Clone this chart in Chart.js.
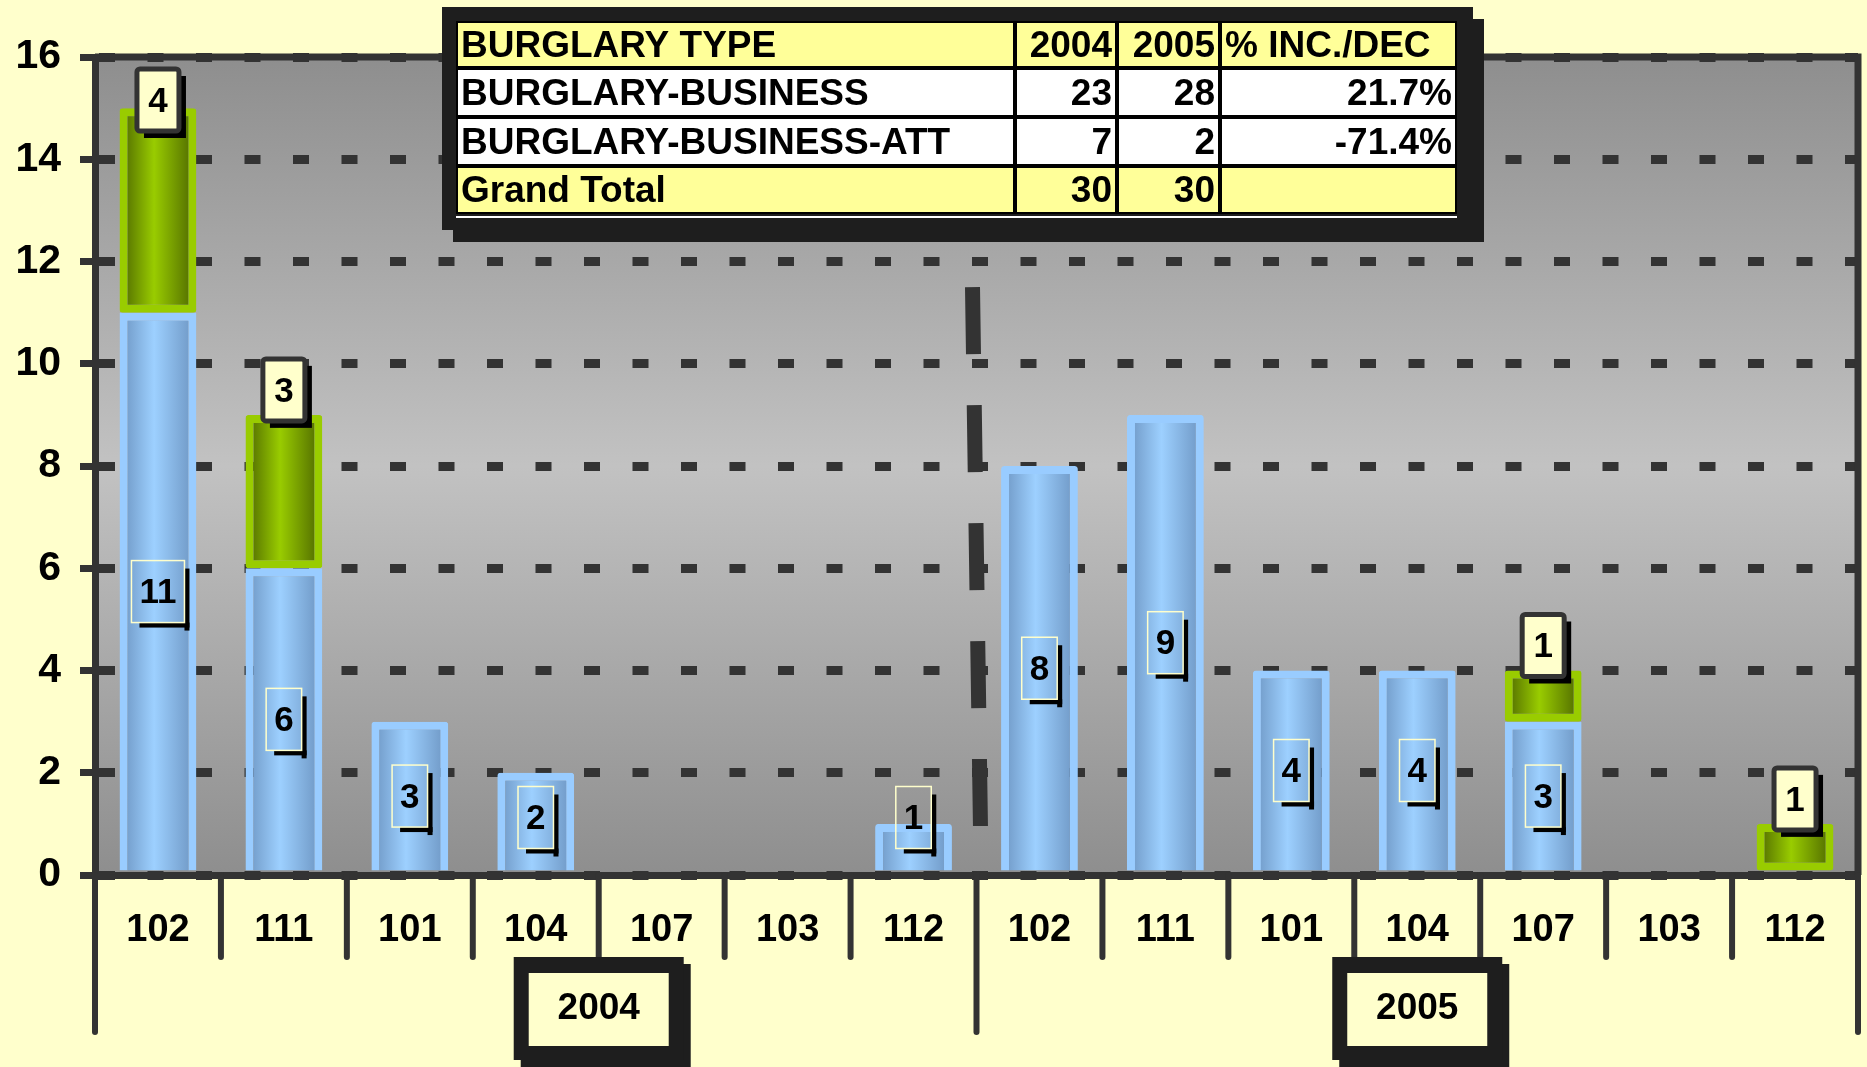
<!DOCTYPE html>
<html>
<head>
<meta charset="utf-8">
<script src="https://cdn.jsdelivr.net/npm/chart.js@4.4.0/dist/chart.umd.min.js"></script>
<style>
  html, body { margin: 0; padding: 0; background: #ffffcc; }
  canvas { display: block; }
</style>
</head>
<body>
<canvas id="chart" width="1867" height="1067"></canvas>
<script>
// precinct codes along the x axis, one run per year
const precincts = ["102", "111", "101", "104", "107", "103", "112"]
const years = ["2004", "2005"]
const categories = years.flatMap(() => precincts)

// stacked counts per precinct: 2004 run first, then 2005
const businessCounts = [11, 6, 3, 2, 0, 0, 1, 8, 9, 4, 4, 3, 0, 0]
const attemptCounts = [4, 3, 0, 0, 0, 0, 0, 0, 0, 0, 0, 1, 0, 1]

// y axis
const yTickValues = [0, 2, 4, 6, 8, 10, 12, 14, 16]

// summary table
const tableHeader = ["BURGLARY TYPE", "2004", "2005", "% INC./DEC"]
const burglaryTypes = ["BURGLARY-BUSINESS", "BURGLARY-BUSINESS-ATT"]

const FONT = "'Liberation Sans', Arial, sans-serif"
const DARK = "#333333"
const FRAME = "#1e1e1e"
const BAR_FRACTION = 0.61

const sum = arr => arr.reduce((a, b) => a + b, 0)

/**
 * Horizontal "cylinder" gradient for a single bar
 */
function barGradient(context, edge, mid) {
  const chart = context.chart
  const x = chart.scales.x
  if (context.type !== "data" || !x || !chart.chartArea) return mid
  const center = x.getPixelForValue(context.dataIndex)
  const half = (x.width / categories.length) * BAR_FRACTION / 2
  const g = chart.ctx.createLinearGradient(center - half, 0, center + half, 0)
  g.addColorStop(0, edge)
  g.addColorStop(0.45, mid)
  g.addColorStop(1, edge)
  return g
}

function roundRect(ctx, x, y, w, h, r) {
  ctx.beginPath()
  ctx.moveTo(x + r, y)
  ctx.arcTo(x + w, y, x + w, y + h, r)
  ctx.arcTo(x + w, y + h, x, y + h, r)
  ctx.arcTo(x, y + h, x, y, r)
  ctx.arcTo(x, y, x + w, y, r)
  ctx.closePath()
}

// plot background: grey band, lighter in the middle
const backgroundPlugin = {
  id: "background",
  beforeDraw(chart) {
    const { ctx, chartArea: a } = chart
    ctx.save()
    ctx.fillStyle = "#ffffcc"
    ctx.fillRect(0, 0, chart.width, chart.height)
    const g = ctx.createLinearGradient(0, a.top, 0, a.bottom)
    g.addColorStop(0, "#8e8e8e")
    g.addColorStop(0.5, "#c2c2c2")
    g.addColorStop(1, "#8e8e8e")
    ctx.fillStyle = g
    ctx.fillRect(a.left, a.top, a.right - a.left, a.bottom - a.top)
    ctx.restore()
  },
}

// value boxes on the bars
const labelPlugin = {
  id: "valueLabels",
  afterDatasetsDraw(chart) {
    const ctx = chart.ctx
    ctx.save()
    ctx.font = `bold 35px ${FONT}`
    ctx.textAlign = "center"
    ctx.textBaseline = "middle"

    chart.getDatasetMeta(0).data.forEach((bar, i) => {
      const v = businessCounts[i]
      if (!v) return
      const text = String(v)
      const w = ctx.measureText(text).width + 16
      const h = 62
      let cy = (bar.y + bar.base) / 2
      cy = Math.min(cy, bar.base - 22 - h / 2)
      const left = bar.x - w / 2
      const top = cy - h / 2
      ctx.fillStyle = "#000"
      ctx.fillRect(left + w, top + 8, 5, h)
      ctx.fillRect(left + 8, top + h, w - 3, 5)
      ctx.strokeStyle = "#ffffcc"
      ctx.lineWidth = 1.5
      ctx.strokeRect(left, top, w, h)
      ctx.fillStyle = "#000"
      ctx.fillText(text, bar.x, cy + 2)
    })

    chart.getDatasetMeta(1).data.forEach((bar, i) => {
      const v = attemptCounts[i]
      if (!v) return
      const w = 42
      const h = 62
      const left = bar.x - w / 2
      const top = Math.max(bar.y + 6 - h, chart.chartArea.top + 12)
      ctx.fillStyle = "#000"
      ctx.fillRect(left + 7, top + 7, w, h)
      roundRect(ctx, left, top, w, h, 3)
      ctx.fillStyle = "#ffffcc"
      ctx.fill()
      ctx.strokeStyle = DARK
      ctx.lineWidth = 5
      ctx.stroke()
      ctx.fillStyle = "#000"
      ctx.fillText(String(v), bar.x, top + h / 2 + 2)
    })
    ctx.restore()
  },
}

// frame, category dividers, year boxes and the summary table
const decorPlugin = {
  id: "decor",
  afterDraw(chart) {
    const { ctx, chartArea: a } = chart
    const xs = chart.scales.x
    const ys = chart.scales.y
    ctx.save()

    // top and right frame
    ctx.strokeStyle = DARK
    ctx.lineWidth = 7
    ctx.beginPath()
    ctx.moveTo(a.left, a.top)
    ctx.lineTo(a.right, a.top)
    ctx.lineTo(a.right, a.bottom)
    ctx.stroke()

    // category separators below the axis
    ctx.lineWidth = 6
    ctx.lineCap = "round"
    for (let i = 0; i <= categories.length; i++) {
      const x = xs.getPixelForValue(i - 0.5)
      const long = i % precincts.length === 0
      ctx.beginPath()
      ctx.moveTo(x, a.bottom)
      ctx.lineTo(x, long ? 1032 : 957)
      ctx.stroke()
    }

    // dashed divider between years
    const xMid = xs.getPixelForValue(precincts.length - 0.5)
    ctx.lineCap = "butt"
    ctx.lineWidth = 15
    ctx.setLineDash([67, 51])
    ctx.beginPath()
    ctx.moveTo(xMid - 4, ys.getPixelForValue(11.5))
    ctx.lineTo(xMid + 4, ys.getPixelForValue(0.9))
    ctx.stroke()
    ctx.setLineDash([])

    // year boxes
    const yearCenters = [xs.getPixelForValue(3.5), xs.getPixelForValue(10)]
    years.forEach((year, i) => {
      const cx = yearCenters[i]
      const w = 170, h = 103, top = 957
      ctx.fillStyle = FRAME
      ctx.fillRect(cx - w / 2 + 7, top + 7, w, h)
      ctx.fillRect(cx - w / 2, top, w, h)
      ctx.fillStyle = "#ffffcc"
      ctx.fillRect(cx - w / 2 + 15, top + 16, w - 30, h - 30)
      ctx.fillStyle = "#000"
      ctx.font = `bold 37px ${FONT}`
      ctx.textAlign = "center"
      ctx.textBaseline = "middle"
      ctx.fillText(year, cx, top + 52)
    })

    // summary table
    const per = precincts.length
    const c2004 = [sum(businessCounts.slice(0, per)), sum(attemptCounts.slice(0, per))]
    const c2005 = [sum(businessCounts.slice(per)), sum(attemptCounts.slice(per))]
    const pct = c2004.map((v, i) => ((c2005[i] - v) / v * 100).toFixed(1) + "%")
    const rows = [
      tableHeader,
      ...burglaryTypes.map((t, i) => [t, String(c2004[i]), String(c2005[i]), pct[i]]),
      ["Grand Total", String(sum(c2004)), String(sum(c2005)), ""],
    ]
    const cols = [456, 1015, 1117, 1220, 1457]
    const rowY = [21, 68, 117, 166, 214]

    ctx.fillStyle = FRAME
    ctx.fillRect(453, 19, 1031, 223)
    ctx.fillRect(442, 7, 1031, 223)
    ctx.fillStyle = "#000"
    ctx.fillRect(cols[0], rowY[0], cols[4] - cols[0], rowY[4] - rowY[0])
    ctx.fillStyle = "#ffffff"
    ctx.fillRect(cols[0], rowY[4] + 2, cols[4] - cols[0], 2)

    ctx.font = `bold 37px ${FONT}`
    ctx.textBaseline = "middle"
    rows.forEach((row, r) => {
      const shade = r === 0 || r === rows.length - 1 ? "#ffff99" : "#ffffff"
      const y0 = rowY[r], y1 = rowY[r + 1]
      const ym = (y0 + y1) / 2 + 2
      row.forEach((cell, c) => {
        const x0 = cols[c], x1 = cols[c + 1]
        ctx.fillStyle = shade
        ctx.fillRect(x0 + 2, y0 + 2, x1 - x0 - 4, y1 - y0 - 4)
        ctx.fillStyle = "#000"
        const leftAligned = c === 0 || (c === 3 && r === 0)
        ctx.textAlign = leftAligned ? "left" : "right"
        ctx.fillText(cell, leftAligned ? x0 + 5 : x1 - 5, ym)
      })
    })
    ctx.restore()
  },
}

new Chart(document.getElementById("chart"), {
  type: "bar",
  data: {
    labels: categories,
    datasets: [
      {
        label: "BURGLARY-BUSINESS",
        data: businessCounts.map(v => v || null),
        backgroundColor: c => barGradient(c, "#6b93c0", "#9dd0ff"),
        borderColor: "#99ccff",
        borderWidth: 8,
        borderSkipped: "bottom",
        borderRadius: 3,
        barPercentage: BAR_FRACTION,
        categoryPercentage: 1,
        stack: "s",
      },
      {
        label: "BURGLARY-BUSINESS-ATT",
        data: attemptCounts.map(v => v || null),
        backgroundColor: c => barGradient(c, "#4b6400", "#99cc00"),
        borderColor: "#99cc00",
        borderWidth: 8,
        borderSkipped: false,
        borderRadius: 3,
        barPercentage: BAR_FRACTION,
        categoryPercentage: 1,
        stack: "s",
      },
    ],
  },
  options: {
    responsive: false,
    devicePixelRatio: 1,
    animation: false,
    layout: { padding: { top: 57, right: 9, left: 0, bottom: 0 } },
    plugins: {
      legend: { display: false },
      tooltip: { enabled: false },
    },
    scales: {
      x: {
        stacked: true,
        grid: { display: false, drawTicks: false },
        border: { display: true, color: DARK, width: 7 },
        ticks: {
          color: "#000",
          font: { family: FONT, size: 38, weight: "bold" },
          padding: 33,
          autoSkip: false,
          maxRotation: 0,
        },
        afterFit: scale => { scale.height = 192 },
      },
      y: {
        stacked: true,
        min: 0,
        max: 16,
        afterBuildTicks: scale => { scale.ticks = yTickValues.map(v => ({ value: v })) },
        grid: {
          color: DARK,
          lineWidth: 9,
          drawTicks: true,
          tickLength: 15,
          tickWidth: 7,
          tickColor: DARK,
        },
        border: { display: true, color: DARK, width: 7, dash: [16, 32.5] },
        ticks: {
          color: "#000",
          font: { family: FONT, size: 41, weight: "bold" },
          padding: 19,
        },
        afterFit: scale => { scale.width = 95 },
      },
    },
  },
  plugins: [backgroundPlugin, labelPlugin, decorPlugin],
})
</script>
</body>
</html>
